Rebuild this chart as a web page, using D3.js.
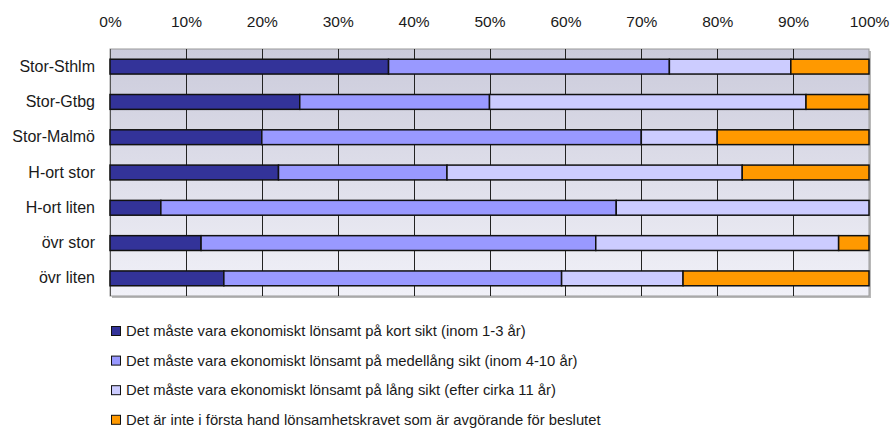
<!DOCTYPE html>
<html>
<head>
<meta charset="utf-8">
<script src="https://cdn.jsdelivr.net/npm/d3@7"></script>
<style>
  body { margin: 0; background: #fff; }
  svg { display: block; font-family: "Liberation Sans", Arial, sans-serif; }
</style>
</head>
<body>
<svg id="chart" width="893" height="428"></svg>
<script>
// Regions (rows, top to bottom)
const categories = ["Stor-Sthlm", "Stor-Gtbg", "Stor-Malmö", "H-ort stor", "H-ort liten", "övr stor", "övr liten"];

// Share of answers per region, in percent
const kortSikt      = [36.7, 25.0, 20.0, 22.2,  6.7, 12.0, 15.0];
const medellangSikt = [37.0, 25.0, 50.0, 22.2, 60.0, 52.0, 44.5];
const langSikt      = [16.0, 41.7, 10.0, 38.9, 33.3, 32.0, 16.0];
const inteLonsamhet = [10.3,  8.3, 20.0, 16.7,  0.0,  4.0, 24.5];

const seriesNames = [
  "Det måste vara ekonomiskt lönsamt på kort sikt (inom 1-3 år)",
  "Det måste vara ekonomiskt lönsamt på medellång sikt (inom 4-10 år)",
  "Det måste vara ekonomiskt lönsamt på lång sikt (efter cirka 11 år)",
  "Det är inte i första hand lönsamhetskravet som är avgörande för beslutet"
];
const seriesColors = ["#333399", "#9999ff", "#ccccff", "#ff9900"];

const tickValues = [0, 10, 20, 30, 40, 50, 60, 70, 80, 90, 100];

const seriesValues = [kortSikt, medellangSikt, langSikt, inteLonsamhet];
const rows = categories.map((c, i) => {
  const r = { category: c };
  seriesValues.forEach((vals, s) => { r["s" + s] = vals[i]; });
  return r;
});
const keys = seriesValues.map((_, s) => "s" + s);
const stacked = d3.stack().keys(keys).offset(d3.stackOffsetExpand)(rows);

const svg = d3.select("#chart");
const plot = { left: 110, right: 869, top: 49, bottom: 296 };

const x = d3.scaleLinear().domain([0, 1]).range([plot.left, plot.right]);
const y = d3.scaleBand().domain(categories).range([plot.top, plot.bottom]).paddingInner(0.58).paddingOuter(0.29);

// Plot background: soft vertical gradient
const defs = svg.append("defs");
const grad = defs.append("linearGradient").attr("id", "bg").attr("x1", 0).attr("y1", 0).attr("x2", 0).attr("y2", 1);
grad.append("stop").attr("offset", "0%").attr("stop-color", "#cbcbdb");
grad.append("stop").attr("offset", "100%").attr("stop-color", "#f1f1f8");

// Drop shadow on right/bottom of plot frame
svg.append("rect")
  .attr("x", plot.left + 2).attr("y", plot.top + 2)
  .attr("width", plot.right - plot.left).attr("height", plot.bottom - plot.top)
  .attr("fill", "#b8b8b8");
svg.append("rect")
  .attr("x", plot.left).attr("y", plot.top)
  .attr("width", plot.right - plot.left).attr("height", plot.bottom - plot.top)
  .attr("fill", "url(#bg)")
  .attr("stroke", "#9a9a9a").attr("stroke-width", 1);

// Vertical gridlines
svg.append("g").selectAll("line")
  .data(tickValues.slice(1, -1))
  .join("line")
  .attr("x1", d => Math.round(x(d / 100)) + 0.5).attr("x2", d => Math.round(x(d / 100)) + 0.5)
  .attr("y1", plot.top).attr("y2", plot.bottom)
  .attr("stroke", "#222").attr("stroke-width", 1);

// Left axis line
svg.append("line")
  .attr("x1", plot.left + 0.5).attr("x2", plot.left + 0.5)
  .attr("y1", plot.top).attr("y2", plot.bottom)
  .attr("stroke", "#555").attr("stroke-width", 1);

// Top percent axis labels
const xAxis = d3.axisTop(x)
  .tickValues(tickValues.map(v => v / 100))
  .tickFormat(d => Math.round(d * 100) + "%")
  .tickSize(0).tickPadding(0);
const gx = svg.append("g").attr("transform", "translate(0,27)").call(xAxis);
gx.select(".domain").remove();
gx.selectAll("text").attr("font-size", 15.5).attr("fill", "#1a1a1a")
  .attr("font-family", "'Liberation Sans', Arial, sans-serif");

// Category labels
const yAxis = d3.axisLeft(y).tickSize(0).tickPadding(15);
const gy = svg.append("g").attr("transform", `translate(${plot.left},0)`).call(yAxis);
gy.select(".domain").remove();
gy.selectAll("text").attr("font-size", 16).attr("fill", "#1a1a1a")
  .attr("font-family", "'Liberation Sans', Arial, sans-serif");

// Stacked bars
svg.append("g").selectAll("g")
  .data(stacked)
  .join("g")
  .attr("fill", (d, i) => seriesColors[i])
  .selectAll("rect")
  .data(d => d.filter(p => p[1] - p[0] > 0))
  .join("rect")
  .attr("x", d => x(d[0]))
  .attr("y", d => y(d.data.category))
  .attr("width", d => x(d[1]) - x(d[0]))
  .attr("height", y.bandwidth())
  .attr("stroke", "#111")
  .attr("stroke-width", 1.5);

// Legend
const legend = svg.append("g").selectAll("g")
  .data(seriesNames)
  .join("g")
  .attr("transform", (d, i) => `translate(111,${330 + i * 29.6})`);
legend.append("rect")
  .attr("x", 0.5).attr("y", -3.5).attr("width", 9).attr("height", 9)
  .attr("fill", (d, i) => seriesColors[i])
  .attr("stroke", "#111").attr("stroke-width", 1);
legend.append("text")
  .attr("x", 15).attr("y", 1).attr("dy", "0.35em")
  .attr("font-size", 14.8).attr("fill", "#1a1a1a")
  .text(d => d);
</script>
</body>
</html>
